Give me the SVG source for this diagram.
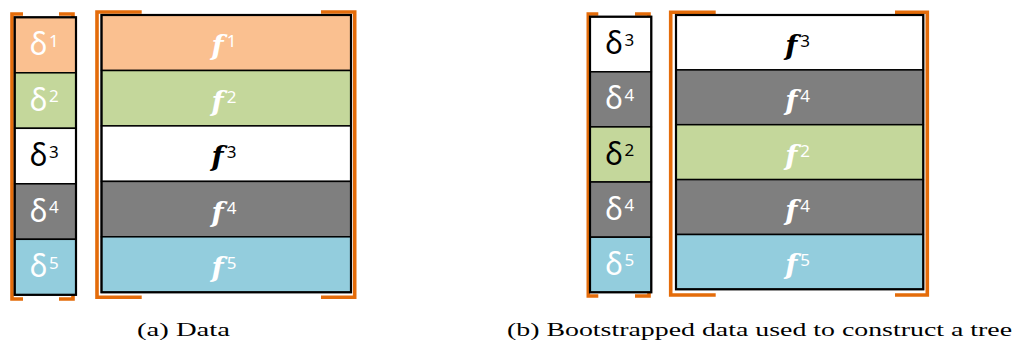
<svg xmlns="http://www.w3.org/2000/svg" width="1016" height="342" viewBox="0 0 1016 342">
<style>
.br{fill:none;stroke:#E46C0A;stroke-width:3.6;stroke-linecap:butt;stroke-linejoin:miter}
.row{stroke:#000;stroke-width:1.5}
.out{fill:none;stroke:#000;stroke-width:2.2}
.peach{fill:#FAC090}.green{fill:#C4D79B}.white{fill:#FFFFFF}.gray{fill:#7F7F7F}.blue{fill:#93CDDD}
.d{font-family:"Noto Sans","Open Sans",sans-serif;font-size:30px;text-anchor:middle}
.f{font-family:"DejaVu Serif",serif;font-style:italic;font-weight:bold;font-size:28px;text-anchor:middle}
.s{font-family:"Noto Sans","Open Sans",sans-serif;font-style:normal;font-weight:normal;font-size:17px}
.w{fill:#FFFFFF}.k{fill:#000000}
.cap{font-family:"Liberation Serif","Times New Roman",serif;font-size:18px;fill:#000}
</style>
<g id="brackets">
<path class="br" d="M23,14 H12 V299 H23 M59,14 H73 V299 H59"/>
<path class="br" d="M141.7,12 H97 V297.3 H141.7 M321,12 H354.7 V297.3 H321"/>
<path class="br" d="M598.3,14 H588.3 V296 H598.3 M635,14 H649 V296 H635"/>
<path class="br" d="M715.7,12.3 H670.7 V295 H715.7 M895,12.3 H927.3 V295 H895"/>
</g>
<g id="a-delta">
<rect class="row peach" x="14.7" y="17.3" width="61.3" height="55.5"/>
<rect class="row green" x="14.7" y="72.8" width="61.3" height="55.5"/>
<rect class="row white" x="14.7" y="128.3" width="61.3" height="55.5"/>
<rect class="row gray" x="14.7" y="183.8" width="61.3" height="55.5"/>
<rect class="row blue" x="14.7" y="239.3" width="61.3" height="55.5"/>
<rect class="out" x="14.7" y="17.3" width="61.3" height="277.5"/>
<text class="d w" x="44.3" y="55">δ<tspan class="s" dx="1.5" dy="-8.5">1</tspan></text>
<text class="d w" x="44.3" y="110.5">δ<tspan class="s" dx="1.5" dy="-8.5">2</tspan></text>
<text class="d k" x="44.3" y="166">δ<tspan class="s" dx="1.5" dy="-8.5">3</tspan></text>
<text class="d w" x="44.3" y="221.5">δ<tspan class="s" dx="1.5" dy="-8.5">4</tspan></text>
<text class="d w" x="44.3" y="277">δ<tspan class="s" dx="1.5" dy="-8.5">5</tspan></text>
</g>
<g id="a-f">
<rect class="row peach" x="101.5" y="15" width="249.5" height="55.5"/>
<rect class="row green" x="101.5" y="70.5" width="249.5" height="55.4"/>
<rect class="row white" x="101.5" y="125.9" width="249.5" height="55.5"/>
<rect class="row gray" x="101.5" y="181.4" width="249.5" height="55.4"/>
<rect class="row blue" x="101.5" y="236.8" width="249.5" height="55.5"/>
<rect class="out" x="101.5" y="15" width="249.5" height="277.3"/>
<text class="f w" x="224" y="55.2">f<tspan class="s" dx="3" dy="-8">1</tspan></text>
<text class="f w" x="224" y="110.7">f<tspan class="s" dx="3" dy="-8">2</tspan></text>
<text class="f k" x="224" y="166.1">f<tspan class="s" dx="3" dy="-8">3</tspan></text>
<text class="f w" x="224" y="221.6">f<tspan class="s" dx="3" dy="-8">4</tspan></text>
<text class="f w" x="224" y="277">f<tspan class="s" dx="3" dy="-8">5</tspan></text>
</g>
<g id="b-delta">
<rect class="row white" x="590" y="16.7" width="61.3" height="55.1"/>
<rect class="row gray" x="590" y="71.8" width="61.3" height="55.1"/>
<rect class="row green" x="590" y="126.9" width="61.3" height="55.1"/>
<rect class="row gray" x="590" y="182" width="61.3" height="55.2"/>
<rect class="row blue" x="590" y="237.2" width="61.3" height="55.1"/>
<rect class="out" x="590" y="16.7" width="61.3" height="275.6"/>
<text class="d k" x="619.7" y="54.3">δ<tspan class="s" dx="1.5" dy="-8.5">3</tspan></text>
<text class="d w" x="619.7" y="109.4">δ<tspan class="s" dx="1.5" dy="-8.5">4</tspan></text>
<text class="d k" x="619.7" y="164.5">δ<tspan class="s" dx="1.5" dy="-8.5">2</tspan></text>
<text class="d w" x="619.7" y="219.6">δ<tspan class="s" dx="1.5" dy="-8.5">4</tspan></text>
<text class="d w" x="619.7" y="274.8">δ<tspan class="s" dx="1.5" dy="-8.5">5</tspan></text>
</g>
<g id="b-f">
<rect class="row white" x="676" y="15" width="247.3" height="54.9"/>
<rect class="row gray" x="676" y="69.9" width="247.3" height="54.8"/>
<rect class="row green" x="676" y="124.7" width="247.3" height="54.9"/>
<rect class="row gray" x="676" y="179.6" width="247.3" height="54.9"/>
<rect class="row blue" x="676" y="234.5" width="247.3" height="54.8"/>
<rect class="out" x="676" y="15" width="247.3" height="274.3"/>
<text class="f k" x="797.7" y="55">f<tspan class="s" dx="3" dy="-8">3</tspan></text>
<text class="f w" x="797.7" y="109.8">f<tspan class="s" dx="3" dy="-8">4</tspan></text>
<text class="f w" x="797.7" y="164.7">f<tspan class="s" dx="3" dy="-8">2</tspan></text>
<text class="f w" x="797.7" y="219.6">f<tspan class="s" dx="3" dy="-8">4</tspan></text>
<text class="f w" x="797.7" y="274.4">f<tspan class="s" dx="3" dy="-8">5</tspan></text>
</g>
<g id="captions">
<text class="cap" x="137" y="336" textLength="93" lengthAdjust="spacingAndGlyphs">(a) Data</text>
<text class="cap" x="507" y="336" textLength="505" lengthAdjust="spacingAndGlyphs">(b) Bootstrapped data used to construct a tree</text>
</g>
</svg>
